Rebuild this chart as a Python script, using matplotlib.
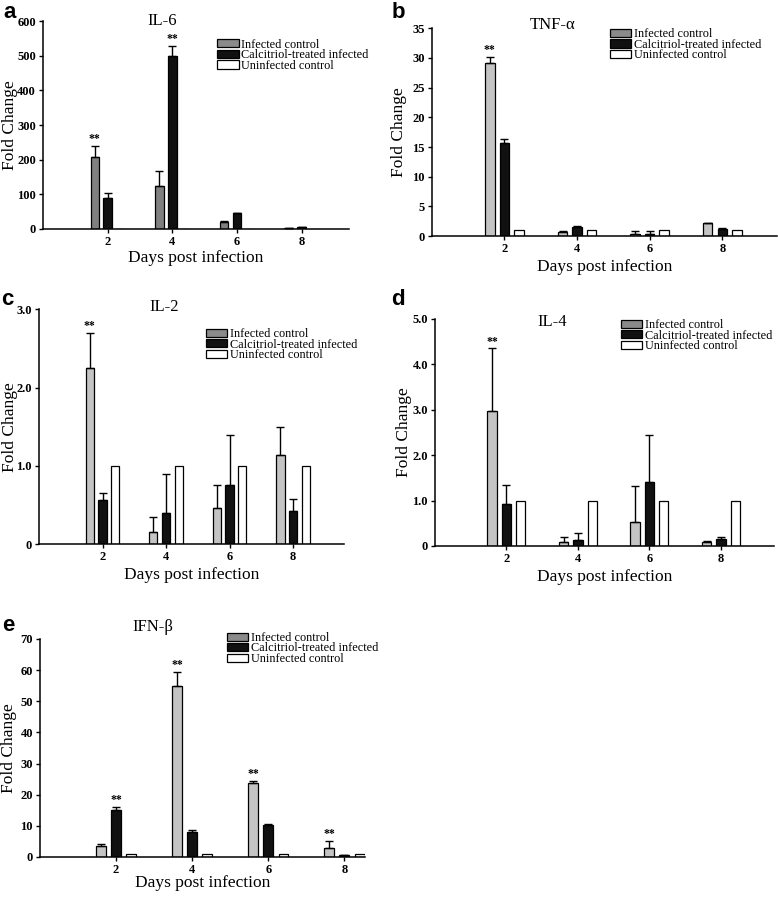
import numpy as np
import matplotlib
matplotlib.use("Agg")
import matplotlib.pyplot as plt

plt.rcParams['font.family'] = ['Liberation Serif', 'DejaVu Serif']

days = ["2", "4", "6", "8"]
groups = ["Infected control", "Calcitriol-treated infected", "Uninfected control"]

# IL-6
il6_inf = [208, 125, 20, 2]
il6_inf_err = [32, 43, 3, 1]
il6_cal = [88, 500, 45, 5]
il6_cal_err = [16, 28, 2, 2]
il6_uninf = [1, 1, 1, 1]

# TNF-alpha
tnf_inf = [29.1, 0.7, 0.45, 2.2]
tnf_inf_err = [1.0, 0.1, 0.35, 0.1]
tnf_cal = [15.7, 1.6, 0.35, 1.2]
tnf_cal_err = [0.6, 0.1, 0.55, 0.1]
tnf_uninf = [1, 1, 1, 1]

# IL-2
il2_inf = [2.25, 0.15, 0.46, 1.14]
il2_inf_err = [0.45, 0.2, 0.29, 0.36]
il2_cal = [0.56, 0.40, 0.75, 0.42]
il2_cal_err = [0.09, 0.49, 0.65, 0.16]
il2_uninf = [1, 1, 1, 1]

# IL-4
il4_inf = [2.97, 0.08, 0.52, 0.08]
il4_inf_err = [1.38, 0.12, 0.81, 0.04]
il4_cal = [0.93, 0.13, 1.40, 0.15]
il4_cal_err = [0.42, 0.16, 1.04, 0.04]
il4_uninf = [1, 1, 1, 1]

# IFN-beta
ifn_inf = [3.5, 55, 23.8, 3.0]
ifn_inf_err = [0.7, 4.5, 0.7, 2.2]
ifn_cal = [15, 8, 10.2, 0.5]
ifn_cal_err = [1.0, 0.5, 0.3, 0.1]
ifn_uninf = [1, 1, 1, 1]

# significance marks: (group index, day index)
il6_stars = [(0, 0), (1, 1)]
tnf_stars = [(0, 0)]
il2_stars = [(0, 0)]
il4_stars = [(0, 0)]
ifn_stars = [(0, 1), (0, 2), (0, 3), (1, 0)]

legend_gray = "#8a8a8a"


def panel(rect, title, inf, inf_err, cal, cal_err, uninf, stars,
          ymax, yticks, yticklabels, inf_color, title_pos, leg_pos, xmax,
          ylab_x, xlab_y, letter, letter_pos):
    ax = fig.add_axes(rect)
    x = np.arange(1, 5)
    off, w = 0.2, 0.13
    vals = [inf, cal, uninf]
    errs = [inf_err, cal_err, [0, 0, 0, 0]]
    colors = [inf_color, "#111111", "white"]
    for i in range(3):
        xi = x + (i - 1) * off
        ax.bar(xi, vals[i], width=w, color=colors[i], edgecolor="black", linewidth=0.9, zorder=2)
        if i < 2:
            ax.errorbar(xi, vals[i], yerr=[np.zeros(4), errs[i]], fmt="none",
                        ecolor="black", elinewidth=1.0, capsize=3, capthick=1.0, zorder=3)
    for g, d in stars:
        top = vals[g][d] + errs[g][d]
        ax.text(x[d] + (g - 1) * off, top + ymax * 0.004, "**", ha="center", va="bottom",
                fontsize=8.5, fontweight="bold")
    ax.set_xlim(0, xmax)
    ax.set_ylim(0, ymax)
    ax.set_xticks(x)
    ax.set_xticklabels(days, fontsize=9, fontweight="bold")
    ax.set_yticks(yticks)
    ax.set_yticklabels(yticklabels, fontsize=9, fontweight="bold")
    ax.tick_params(direction="out", length=3, width=1, pad=2)
    for s in ["top", "right"]:
        ax.spines[s].set_visible(False)
    for s in ["left", "bottom"]:
        ax.spines[s].set_linewidth(1.1)
    ax.set_xlabel("Days post infection", fontsize=12.5)
    ax.set_ylabel("Fold Change", fontsize=12.5)
    ax.xaxis.label.set_va("center")
    ax.yaxis.label.set_va("center")
    ax.xaxis.set_label_coords(0.5, xlab_y)
    ax.yaxis.set_label_coords(ylab_x, 0.5)
    ax.text(title_pos[0], title_pos[1], title, transform=ax.transAxes,
            ha="center", va="center", fontsize=12)
    handles = [plt.Rectangle((0, 0), 1, 1, facecolor=c, edgecolor="black", linewidth=0.9)
               for c in [legend_gray, "#111111", "white"]]
    ax.legend(handles, groups, loc="upper left", bbox_to_anchor=leg_pos, frameon=False,
              fontsize=8.8, handlelength=1.75, handleheight=0.65, labelspacing=-0.12,
              handletextpad=0.2, borderpad=0, borderaxespad=0)
    fig.text(letter_pos[0], letter_pos[1], letter, fontsize=16, fontweight="bold",
             family="Liberation Sans", ha="center", va="center")
    return ax


fig = plt.figure(figsize=(7.78, 8.98), dpi=100)

panel([0.0553, 0.745, 0.393, 0.2316], "IL-6", il6_inf, il6_inf_err, il6_cal, il6_cal_err, il6_uninf,
      il6_stars, 600, [0, 100, 200, 300, 400, 500, 600], ["0", "100", "200", "300", "400", "500", "600"],
      "#808080", (0.39, 1.0), (0.57, 0.915), 4.73, -0.108, -0.139, "a", (0.012, 0.986))

panel([0.555, 0.737, 0.4434, 0.2316], "TNF-\u03b1", tnf_inf, tnf_inf_err, tnf_cal, tnf_cal_err, tnf_uninf,
      tnf_stars, 35, [0, 5, 10, 15, 20, 25, 30, 35], ["0", "5", "10", "15", "20", "25", "30", "35"],
      "#c4c4c4", (0.35, 1.014), (0.516, 1.0), 4.75, -0.096, -0.149, "b", (0.512, 0.986))

panel([0.0501, 0.394, 0.392, 0.2617], "IL-2", il2_inf, il2_inf_err, il2_cal, il2_cal_err, il2_uninf,
      il2_stars, 3.0, [0, 1, 2, 3], ["0", "1.0", "2.0", "3.0"],
      "#c4c4c4", (0.41, 1.008), (0.548, 0.92), 4.8, -0.095, -0.132, "c", (0.009, 0.666))

panel([0.559, 0.392, 0.4357, 0.2528], "IL-4", il4_inf, il4_inf_err, il4_cal, il4_cal_err, il4_uninf,
      il4_stars, 5.0, [0, 1, 2, 3, 4, 5], ["0", "1.0", "2.0", "3.0", "4.0", "5.0"],
      "#c4c4c4", (0.345, 0.987), (0.549, 1.0), 4.74, -0.091, -0.137, "d", (0.511, 0.666))

panel([0.0514, 0.0457, 0.4177, 0.2428], "IFN-\u03b2", ifn_inf, ifn_inf_err, ifn_cal, ifn_cal_err, ifn_uninf,
      ifn_stars, 70, [0, 10, 20, 30, 40, 50, 60, 70], ["0", "10", "20", "30", "40", "50", "60", "70"],
      "#c4c4c4", (0.348, 1.055), (0.575, 1.032), 4.27, -0.095, -0.118, "e", (0.011, 0.304))

fig.savefig("out.png", dpi=100)
